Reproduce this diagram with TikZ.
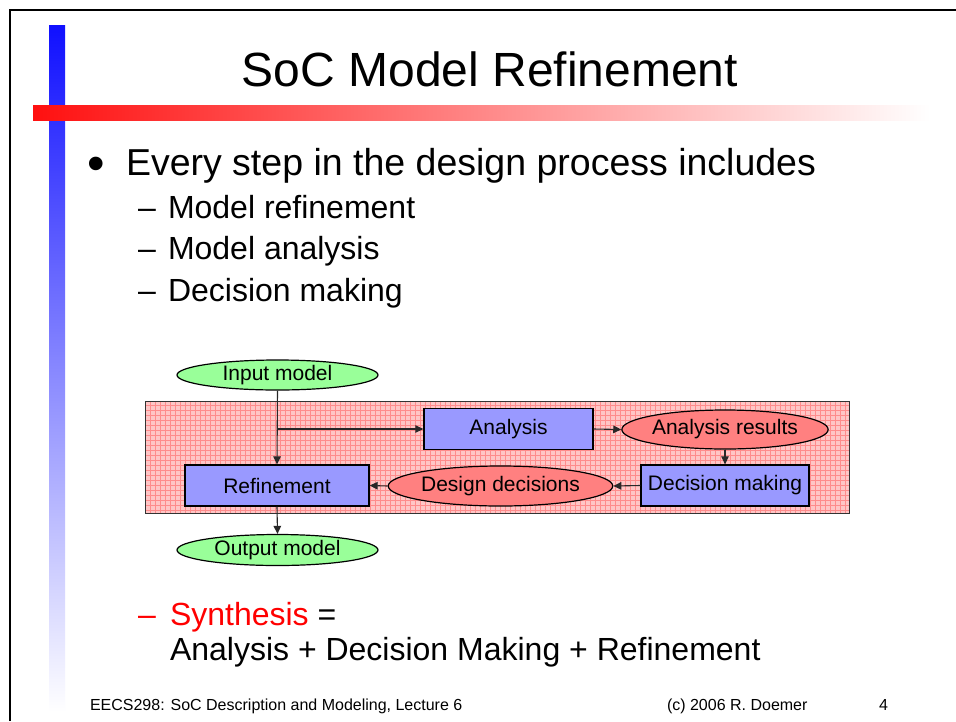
\documentclass[tikz,border=0pt]{standalone}
\usepackage{fontspec}
\setmainfont{Liberation Sans}
\usetikzlibrary{shapes.geometric,arrows.meta}

\definecolor{modelgreen}{RGB}{153,255,153}
\definecolor{taskblue}{RGB}{153,153,255}
\definecolor{datared}{RGB}{255,128,128}
\definecolor{gridbg}{RGB}{255,198,198}
\definecolor{gridline}{RGB}{255,140,140}
\definecolor{barblue}{RGB}{16,16,255}
\definecolor{barred}{RGB}{255,16,16}
\definecolor{wire}{RGB}{40,40,40}

\tikzset{
  fsz/.style={font=\fontsize{#1}{#1}\selectfont},
  modelnode/.style={ellipse, draw=black, line width=1.2pt, fill=modelgreen,
    inner sep=0pt, minimum width=201pt, minimum height=30pt, fsz=21},
  datanode/.style={ellipse, draw=black, line width=1.2pt, fill=datared,
    inner sep=0pt, minimum width=200pt, minimum height=39pt, fsz=21},
  tasknode/.style={rectangle, draw=black, line width=1.3pt, fill=taskblue,
    inner sep=0pt, minimum height=41pt, fsz=21},
  flow/.style={draw=wire, line width=1.1pt, -{Triangle[length=8pt,width=7.5pt]}},
  txt/.style={anchor=base west, inner sep=0pt, outer sep=0pt},
}

\begin{document}
\begin{tikzpicture}[x=1pt,y=-1pt]
  \useasboundingbox (0,0) rectangle (956,721);
  \fill[white] (0,0) rectangle (956,721);

  % slide frame
  \draw[black, line width=2pt] (10,721) -- (10,10) -- (956,10);

  % decorative bars
  \shade[top color=barblue, middle color={rgb,255:red,175;green,175;blue,255},
         bottom color=white] (49,25) rectangle (65,712);
  \shade[left color=barred, right color=white] (33,105) rectangle (930,120);

  % title
  \node[anchor=base, inner sep=0pt, fsz=48] (title) at (490,86) {SoC Model Refinement};

  % bullet list
  \node[txt, fsz=50] (bul) at (87,180) {•};
  \node[txt, fsz=37.5] (l1) at (126,175) {Every step in the design process includes};
  \node[txt, fsz=32] (d1) at (138,218) {–};
  \node[txt, fsz=32] (l2) at (168,218) {Model refinement};
  \node[txt, fsz=32] (d2) at (138,259.5) {–};
  \node[txt, fsz=32] (l3) at (168,259.5) {Model analysis};
  \node[txt, fsz=32] (d3) at (138,301.5) {–};
  \node[txt, fsz=32] (l4) at (168,301.5) {Decision making};

  % refinement loop background
  \fill[gridbg] (145,401) rectangle (849,513);
  \draw[gridline, line width=0.45pt, step=5pt] (145,401) grid (849,513);
  \draw[black!80, line width=1pt] (145,401) rectangle (849,513);

  % diagram nodes
  \node[modelnode] (inp) at (277.5,375) {Input model};
  \node[tasknode, minimum width=169pt] (ana) at (508.5,429) {Analysis};
  \node[datanode, minimum width=202pt] (res) at (725,429.5) {Analysis results};
  \node[tasknode, minimum width=168pt] (dm) at (725,485.5) {Decision making};
  \node[datanode, minimum width=199pt, minimum height=40pt] (dd) at (500.5,486) {Design decisions};
  \node[tasknode, minimum width=184pt] (ref) at (277,485.5) {Refinement};
  \node[modelnode, minimum height=31pt] (out) at (277.5,550) {Output model};

  % connectors
  \coordinate (fork) at (inp.south |- ana.west);
  \draw[flow] (inp.south) -- (ref.north);
  \draw[flow] (fork) -- (ana.west);
  \draw[flow] (ana.east) -- (res.west);
  \draw[flow] (res.south) -- (dm.north);
  \draw[flow] (dm.west) -- (dd.east);
  \draw[flow] (dd.west) -- (ref.east);
  \draw[flow] (ref.south) -- (out.north);

  % synthesis line
  \node[txt, fsz=32, text=red] (d5) at (138,625) {–};
  \node[txt, fsz=32] (syn) at (170,625) {\textcolor{red}{Synthesis} =};
  \node[txt, fsz=32] (sum) at (170,660) {Analysis + Decision Making + Refinement};

  % footer
  \node[txt, fsz=16] (foot) at (90,710) {EECS298: SoC Description and Modeling, Lecture 6};
  \node[txt, fsz=16] (copy) at (667,710) {(c) 2006 R. Doemer};
  \node[txt, fsz=16] (page) at (879,710) {4};
\end{tikzpicture}
\end{document}
